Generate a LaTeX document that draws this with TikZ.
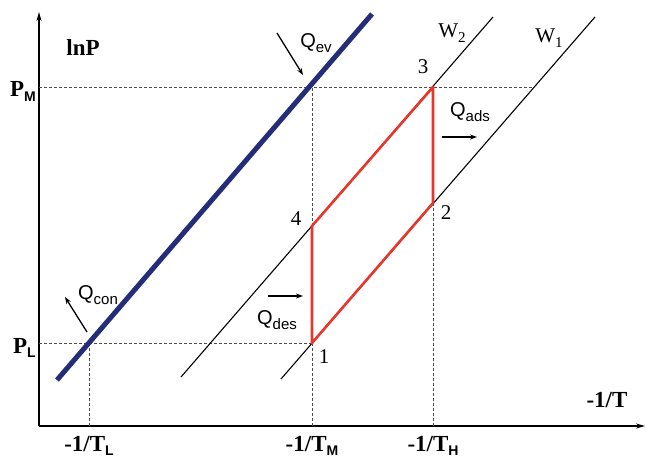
\documentclass[tikz,border=0pt]{standalone}
\usepackage{fontspec}
\setmainfont{Liberation Serif}
\newfontfamily\qsans{Liberation Sans}
\usetikzlibrary{arrows.meta}

\definecolor{isoblue}{RGB}{35,45,120}
\definecolor{cyclered}{RGB}{230,55,45}
\newcommand{\lowsub}[1]{\raisebox{-0.2em}{\fontsize{14}{14}\selectfont\qsans\bfseries #1}}
\newcommand{\qsub}[1]{\raisebox{-0.25em}{\fontsize{15}{15}\selectfont #1}}

\begin{document}
\begin{tikzpicture}[x=1pt, y=-1pt,
	every node/.style={font=\fontsize{21}{23}\selectfont, inner sep=1pt},
	axlab/.style={font=\fontsize{23}{25}\selectfont\bfseries},
	qlab/.style={font=\fontsize{20}{22}\selectfont\qsans},
	guide/.style={densely dashed, gray!60!black, line width=0.8pt},
	heat/.style={-{Stealth[length=7pt,width=5pt]}, line width=1.3pt}]
	\useasboundingbox (0,0) rectangle (647,462);
	% axes
	\coordinate (O) at (39,426);
	\draw[line width=1.3pt, -{Stealth[length=9pt,width=5pt]}] (O) -- (39,12);
	\draw[line width=1.3pt, -{Stealth[length=9pt,width=5pt]}] (O) -- (645,426);
	% cycle corners
	\coordinate (p1) at (312,343);
	\coordinate (p2) at (433,203);
	\coordinate (p3) at (433,87);
	\coordinate (p4) at (312,226);
	% guide lines
	\draw[guide] (39,87) -- (534,87);
	\draw[guide] (39,343) -- (p1);
	\foreach \x/\y in {89/343, 312/87, 433/203} {
		\draw[guide] (\x,426) -- (\x,\y);
	}
	% isosteres
	\draw[isoblue, line width=5pt] (57,380) -- (372,14);
	\draw[line width=1.1pt] (181,377) -- (493,17);
	\draw[line width=1.1pt] (281,379) -- (595,17);
	\draw[cyclered, line width=2.6pt, line join=round] (p1) -- (p2) -- (p3) -- (p4) -- cycle;
	% axis labels
	\node[axlab] (lnp) at (83,48) {lnP};
	\node[axlab, anchor=base east] (pm) at (37,97) {P\lowsub{M}};
	\node[axlab, anchor=base east] (pl) at (37,353) {P\lowsub{L}};
	\node[axlab, anchor=base] (tl) at (89,451) {-1/T\lowsub{L}};
	\node[axlab, anchor=base] (tm) at (312,451) {-1/T\lowsub{M}};
	\node[axlab, anchor=base] (th) at (433,451) {-1/T\lowsub{H}};
	\node[axlab] (tinv) at (607,400) {-1/T};
	% line and point labels
	\node (w2) at (452,33) {W\qsub{\rmfamily 2}};
	\node (w1) at (549,38) {W\qsub{\rmfamily 1}};
	\node (n1) at (324,357) {1};
	\node (n2) at (446,213) {2};
	\node (n3) at (423,67) {3};
	\node (n4) at (296,219) {4};
	% heat flows
	\node[qlab] (qev) at (316,43) {Q\qsub{ev}};
	\node[qlab] (qads) at (470,112) {Q\qsub{ads}};
	\node[qlab] (qcon) at (98,295) {Q\qsub{con}};
	\node[qlab] (qdes) at (277,320) {Q\qsub{des}};
	\draw[heat] (277,33) -- (303,75);
	\draw[heat] (442,137) -- (477,137);
	\draw[heat] (87,332) -- (65,297);
	\draw[heat] (268,296) -- (303,296);
\end{tikzpicture}
\end{document}
